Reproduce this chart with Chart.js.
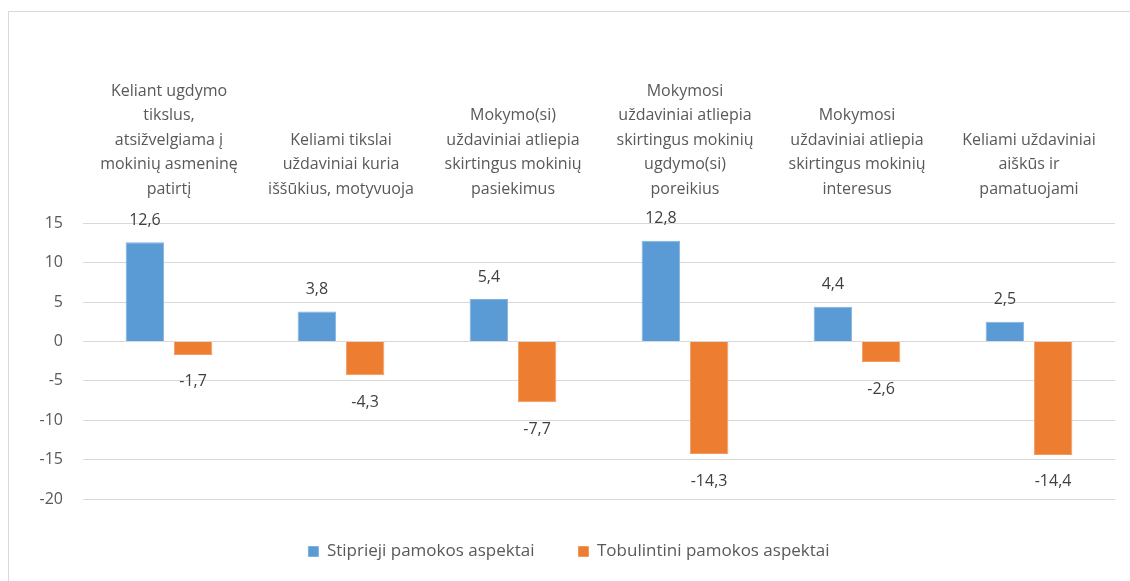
<!DOCTYPE html>
<html>
<head>
<meta charset="utf-8">
<script src="https://cdn.jsdelivr.net/npm/chart.js@4"></script>
<style>
    body { margin: 0; background: #fff; }
    #frame {
        position: absolute;
        left: 8px;
        top: 11px;
        width: 1122px;
        height: 570px;
        border-left: 1px solid #d9d9d9;
        border-top: 1px solid #d9d9d9;
    }
</style>
</head>
<body>
<div id="frame"><canvas id="chart"></canvas></div>
<script>
// Category labels, already broken into lines like in the picture
const categories = [
    ["Keliant ugdymo", "tikslus,", "atsižvelgiama į", "mokinių asmeninę", "patirtį"],
    ["Keliami tikslai", "uždaviniai kuria", "iššūkius, motyvuoja"],
    ["Mokymo(si)", "uždaviniai atliepia", "skirtingus mokinių", "pasiekimus"],
    ["Mokymosi", "uždaviniai atliepia", "skirtingus mokinių", "ugdymo(si)", "poreikius"],
    ["Mokymosi", "uždaviniai atliepia", "skirtingus mokinių", "interesus"],
    ["Keliami uždaviniai", "aiškūs ir", "pamatuojami"]
];

const strongValues = [12.6, 3.8, 5.4, 12.8, 4.4, 2.5];
const improveValues = [-1.7, -4.3, -7.7, -14.3, -2.6, -14.4];

const seriesNames = ["Stiprieji pamokos aspektai", "Tobulintini pamokos aspektai"];

const yMin = -20;
const yMax = 15;
const yStep = 5;

const textColor = '#595959';
const fontFamily = "'Open Sans', 'Noto Sans', sans-serif";

// Value labels above / below each bar, with decimal comma
const valueLabels = {
    id: 'valueLabels',
    afterDatasetsDraw(chart) {
        const ctx = chart.ctx;
        ctx.save();
        ctx.font = '16px ' + fontFamily;
        ctx.fillStyle = '#404040';
        ctx.textAlign = 'center';
        ctx.textBaseline = 'middle';
        chart.data.datasets.forEach((ds, i) => {
            chart.getDatasetMeta(i).data.forEach((bar, j) => {
                const v = ds.data[j];
                const y = v >= 0 ? bar.y - 22 : bar.y + 27;
                ctx.fillText(v.toFixed(1).replace('.', ','), bar.x, y);
            });
        });
        ctx.restore();
    }
};

const ctx = document.getElementById('chart').getContext('2d');
new Chart(ctx, {
    type: 'bar',
    data: {
        labels: categories,
        datasets: [
            {
                label: seriesNames[0],
                data: strongValues,
                backgroundColor: '#5b9bd5',
                borderColor: '#7fb0de',
                borderWidth: 1,
                categoryPercentage: 0.56,
                barPercentage: 0.8
            },
            {
                label: seriesNames[1],
                data: improveValues,
                backgroundColor: '#ed7d31',
                borderColor: '#f29a60',
                borderWidth: 1,
                categoryPercentage: 0.56,
                barPercentage: 0.8
            }
        ]
    },
    options: {
        responsive: true,
        maintainAspectRatio: false,
        animation: false,
        layout: {
            padding: { top: 53, left: 14, right: 16, bottom: 12 }
        },
        scales: {
            x: {
                position: 'top',
                grid: { display: false },
                border: { display: false },
                ticks: {
                    color: textColor,
                    padding: 14,
                    maxRotation: 0,
                    autoSkip: false,
                    font: { family: fontFamily, size: 16, lineHeight: 1.53 }
                }
            },
            y: {
                min: yMin,
                max: yMax,
                afterFit: function(scale) { scale.width = 60; },
                grid: { color: '#d9d9d9', drawTicks: false },
                border: { display: false },
                ticks: {
                    stepSize: yStep,
                    color: textColor,
                    padding: 20,
                    font: { family: fontFamily, size: 16 }
                }
            }
        },
        plugins: {
            legend: {
                position: 'bottom',
                labels: {
                    color: textColor,
                    boxWidth: 10,
                    boxHeight: 10,
                    padding: 44,
                    font: { family: fontFamily, size: 17 }
                }
            },
            tooltip: { enabled: false }
        }
    },
    plugins: [valueLabels]
});
</script>
</body>
</html>
